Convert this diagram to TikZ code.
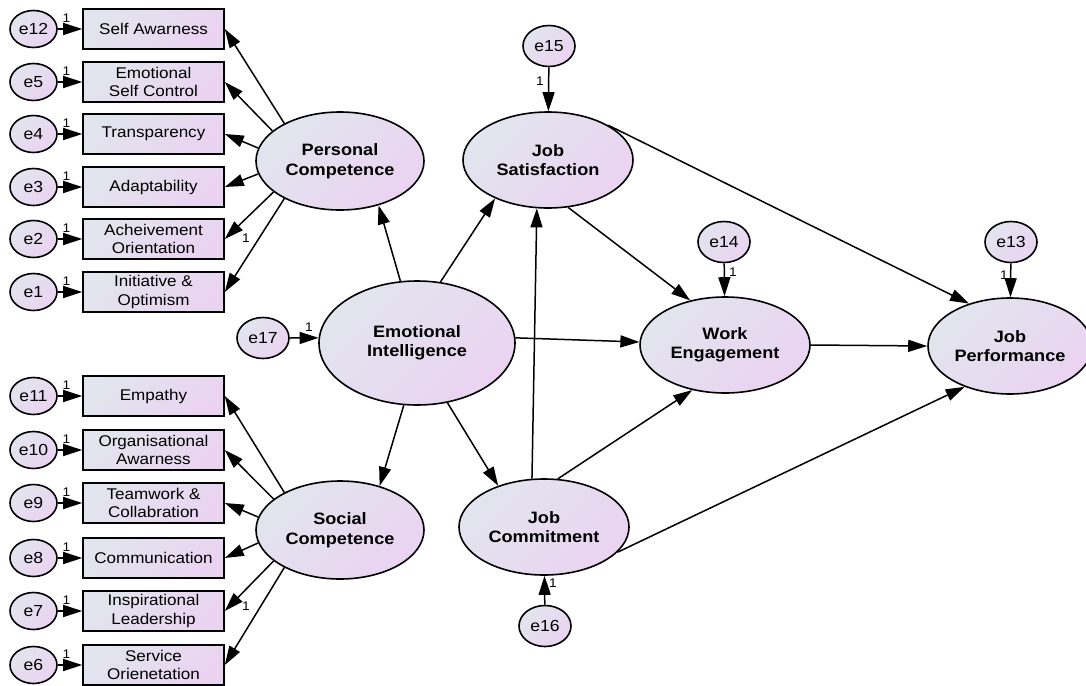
\documentclass[tikz,border=0pt]{standalone}
\usepackage{fontspec}
\setmainfont{Liberation Sans}[FakeStretch=1.1]
\usetikzlibrary{arrows.meta,shapes.geometric}

\definecolor{fillA}{HTML}{E2E5ED}
\definecolor{fillB}{HTML}{EAD3F1}

\tikzset{
  shadefill/.style={left color=fillA,right color=fillB,shading angle=45},
  latent/.style={ellipse,draw=black,line width=1.6pt,shadefill,inner sep=0pt,
    align=center,font=\fontsize{16.5}{19.5}\selectfont\bfseries},
  errvar/.style={ellipse,draw=black,line width=1.6pt,shadefill,inner sep=0pt,
    minimum width=47pt,minimum height=37pt,font=\fontsize{16}{19}\selectfont},
  errsmall/.style={errvar,minimum width=52pt,minimum height=41pt},
  indicator/.style={rectangle,draw=black,line width=1.6pt,shadefill,
    minimum width=141pt,minimum height=40pt,inner sep=0pt,align=center,
    font=\fontsize{15.5}{18.5}\selectfont},
  reg/.style={line width=1.5pt,-{Triangle[length=19pt,width=12pt]}},
  one/.style={font=\fontsize{12.5}{14}\selectfont,inner sep=0pt}
}

\begin{document}
\begin{tikzpicture}[x=1pt,y=-1pt]
\useasboundingbox (0,0) rectangle (1086,685);

% ---- latent variables ----
\node[latent,minimum width=168pt,minimum height=98pt] (PC) at (340,161) {Personal\\Competence};
\node[latent,minimum width=168pt,minimum height=98pt] (SC) at (340,530) {Social\\Competence};
\node[latent,minimum width=196pt,minimum height=124pt] (EI) at (417,343) {Emotional\\Intelligence};
\node[latent,minimum width=170pt,minimum height=96pt] (JS) at (548,160) {Job\\Satisfaction};
\node[latent,minimum width=170pt,minimum height=96pt] (JC) at (544,527) {Job\\Commitment};
\node[latent,minimum width=170pt,minimum height=96pt] (WE) at (725,345) {Work\\Engagement};
\node[latent,minimum width=164pt,minimum height=96pt] (JP) at (1010,346) {Job\\Performance};

% ---- residuals of the structural part ----
\node[errsmall] (e15) at (549,46) {e15};
\node[errsmall] (e16) at (545,626) {e16};
\node[errsmall] (e14) at (724,242) {e14};
\node[errsmall] (e13) at (1011,242) {e13};
\node[errsmall] (e17) at (263,338) {e17};

% ---- indicators of personal competence ----
\node[indicator] (SA)  at (153.5,29)  {Self Awarness};
\node[indicator] (ESC) at (153.5,82)  {Emotional\\Self Control};
\node[indicator] (TR)  at (153.5,134) {Transparency};
\node[indicator] (AD)  at (153.5,187) {Adaptability};
\node[indicator] (AO)  at (153.5,239) {Acheivement\\Orientation};
\node[indicator] (IO)  at (153.5,292) {Initiative \&\\Optimism};

% ---- indicators of social competence ----
\node[indicator] (EM)  at (153.5,396) {Empathy};
\node[indicator] (OA)  at (153.5,450) {Organisational\\Awarness};
\node[indicator] (TC)  at (153.5,503) {Teamwork \&\\Collabration};
\node[indicator] (CO)  at (153.5,558) {Communication};
\node[indicator] (IL)  at (153.5,611) {Inspirational\\Leadership};
\node[indicator] (SO)  at (153.5,665) {Service\\Orienetation};

% ---- measurement errors ----
\foreach \e/\b/\y in {e12/SA/29,e5/ESC/82,e4/TR/134,e3/AD/187,e2/AO/239,e1/IO/292,
                      e11/EM/396,e10/OA/450,e9/TC/503,e8/CO/558,e7/IL/611,e6/SO/665}{
  \node[errvar] (\e) at (33.5,\y) {\e};
  \draw[reg] (\e) -- (\b);
  \node[one] at (66.5,\y-11) {1};
}

% ---- loadings ----
\draw[reg] (PC.146) -- (SA.east);
\draw[reg] (PC.156) -- (ESC.east);
\draw[reg] (PC.171) -- (TR.east);
\draw[reg] (PC.189) -- (AD.east);
\draw[reg] (PC.205) -- (AO.east);
\draw[reg] (PC.214) -- (IO.east);
\node[one] at (246,238) {1};

\draw[reg] (SC.146) -- (EM.east);
\draw[reg] (SC.155) -- (OA.east);
\draw[reg] (SC.171) -- (TC.east);
\draw[reg] (SC.189) -- (CO.east);
\draw[reg] (SC.205) -- (IL.east);
\draw[reg] (SC.214) -- (SO.east);
\node[one] at (246,606) {1};

% ---- structural paths ----
\draw[reg] (EI.105) -- (PC.311);
\draw[reg] (EI.258) -- (SC.48);
\draw[reg] (EI.69)  -- (JS.216);
\draw[reg] (EI.3)   -- (WE.178);
\draw[reg] (EI.297) -- (JC.138);
\draw[reg] (JC.104) -- (JS.257);
\draw[reg] (JS.293) -- (WE.128);
\draw[reg] (JS.30)  -- (JP.134);
\draw[reg] (JC.74)  -- (WE.234);
\draw[reg] (JC.341) -- (JP.222);
\draw[reg] (WE.east) -- (JP.west);

% ---- residual paths ----
\draw[reg] (e17.east) -- (EI.177);
\node[one] at (309,327) {1};
\draw[reg] (e15) -- (JS);
\node[one] at (540,81) {1};
\draw[reg] (e14) -- (WE);
\node[one] at (733,272) {1};
\draw[reg] (e13) -- (JP);
\node[one] at (1004,275) {1};
\draw[reg] (e16) -- (JC);
\node[one] at (553,583) {1};
\end{tikzpicture}
\end{document}
